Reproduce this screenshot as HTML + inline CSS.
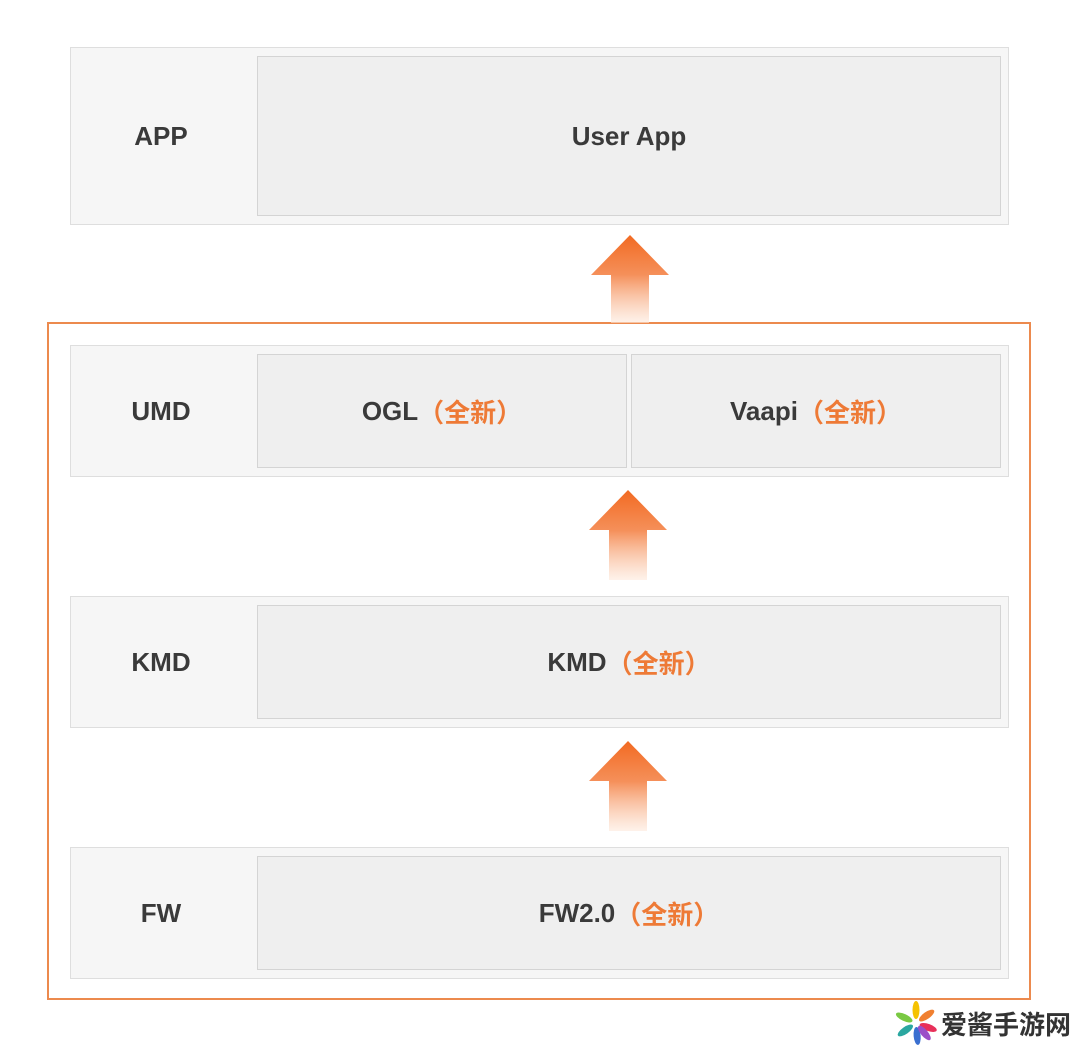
<!DOCTYPE html>
<html><head><meta charset="utf-8"><style>
html,body{margin:0;padding:0;background:#fff;}
body{width:1080px;height:1049px;position:relative;overflow:hidden;font-family:"Liberation Sans","Noto Sans CJK SC",sans-serif;}
.row{position:absolute;left:70px;width:937px;background:#f6f6f6;border:1px solid #dedede;}
.lbl{position:absolute;left:0;width:180px;top:0;bottom:0;display:flex;align-items:center;justify-content:center;font-weight:bold;font-size:26px;color:#3a3a3a;}
.in{position:absolute;background:#efefef;border:1px solid #d4d4d4;display:flex;align-items:center;justify-content:center;font-weight:bold;font-size:26px;color:#3a3a3a;box-sizing:border-box;}
.o{color:#ee7a36;}
.frame{position:absolute;left:47px;top:322px;width:984px;height:678px;border:2px solid #ec8a4e;box-sizing:border-box;}
svg.ar{position:absolute;}
</style></head><body>
<svg width="0" height="0" style="position:absolute"><defs><linearGradient id="g" x1="0" y1="0" x2="0" y2="1"><stop offset="0" stop-color="#f26a22"/><stop offset="0.45" stop-color="#f5905a"/><stop offset="1" stop-color="#fde9dc" stop-opacity="0.6"/></linearGradient></defs></svg>

<div class="row" style="top:47px;height:176px;">
  <div class="lbl">APP</div>
  <div class="in" style="left:186px;top:8px;width:744px;height:160px;">User App</div>
</div>

<div class="frame"></div>

<svg class="ar" style="left:590px;top:235px" width="80" height="88" viewBox="0 0 80 88"><path d="M40 0 L79 40 L59 40 L59 88 L21 88 L21 40 L1 40 Z" fill="url(#g)"/></svg>

<div class="row" style="top:345px;height:130px;">
  <div class="lbl">UMD</div>
  <div class="in" style="left:186px;top:8px;width:370px;height:114px;">OGL<span class="o">（全新）</span></div>
  <div class="in" style="left:560px;top:8px;width:370px;height:114px;">Vaapi<span class="o">（全新）</span></div>
</div>

<svg class="ar" style="left:588px;top:490px" width="80" height="90" viewBox="0 0 80 90"><path d="M40 0 L79 40 L59 40 L59 90 L21 90 L21 40 L1 40 Z" fill="url(#g)"/></svg>

<div class="row" style="top:596px;height:130px;">
  <div class="lbl">KMD</div>
  <div class="in" style="left:186px;top:8px;width:744px;height:114px;">KMD<span class="o">（全新）</span></div>
</div>

<svg class="ar" style="left:588px;top:741px" width="80" height="90" viewBox="0 0 80 90"><path d="M40 0 L79 40 L59 40 L59 90 L21 90 L21 40 L1 40 Z" fill="url(#g)"/></svg>

<div class="row" style="top:847px;height:130px;">
  <div class="lbl">FW</div>
  <div class="in" style="left:186px;top:8px;width:744px;height:114px;">FW2.0<span class="o">（全新）</span></div>
</div>

<div style="position:absolute;left:880px;top:1001px;width:200px;height:48px;background:#fff;"></div>
<svg style="position:absolute;left:893px;top:1000px" width="46" height="46" viewBox="-23 -23 46 46">
<g>
<ellipse cx="0" cy="-13" rx="3.5" ry="9" fill="#f5c200"/>
<ellipse cx="0" cy="-13" rx="3.5" ry="9" fill="#f08030" transform="rotate(55)"/>
<ellipse cx="0" cy="-13" rx="3.5" ry="9" fill="#e8305a" transform="rotate(110)"/>
<ellipse cx="0" cy="-13" rx="3.5" ry="9" fill="#3a6fd0" transform="rotate(175)"/>
<ellipse cx="0" cy="-13" rx="3.5" ry="9" fill="#9b4fc8" transform="rotate(140)"/>
<ellipse cx="0" cy="-13" rx="3.5" ry="9" fill="#2aa7a0" transform="rotate(235)"/>
<ellipse cx="0" cy="-13" rx="3.5" ry="9" fill="#7ac943" transform="rotate(295)"/>
</g></svg>
<div style="position:absolute;left:941px;top:1008px;font-family:'Noto Sans CJK SC',sans-serif;font-weight:bold;font-size:26px;color:#333;line-height:32px;">爱酱手游网</div>
</body></html>
